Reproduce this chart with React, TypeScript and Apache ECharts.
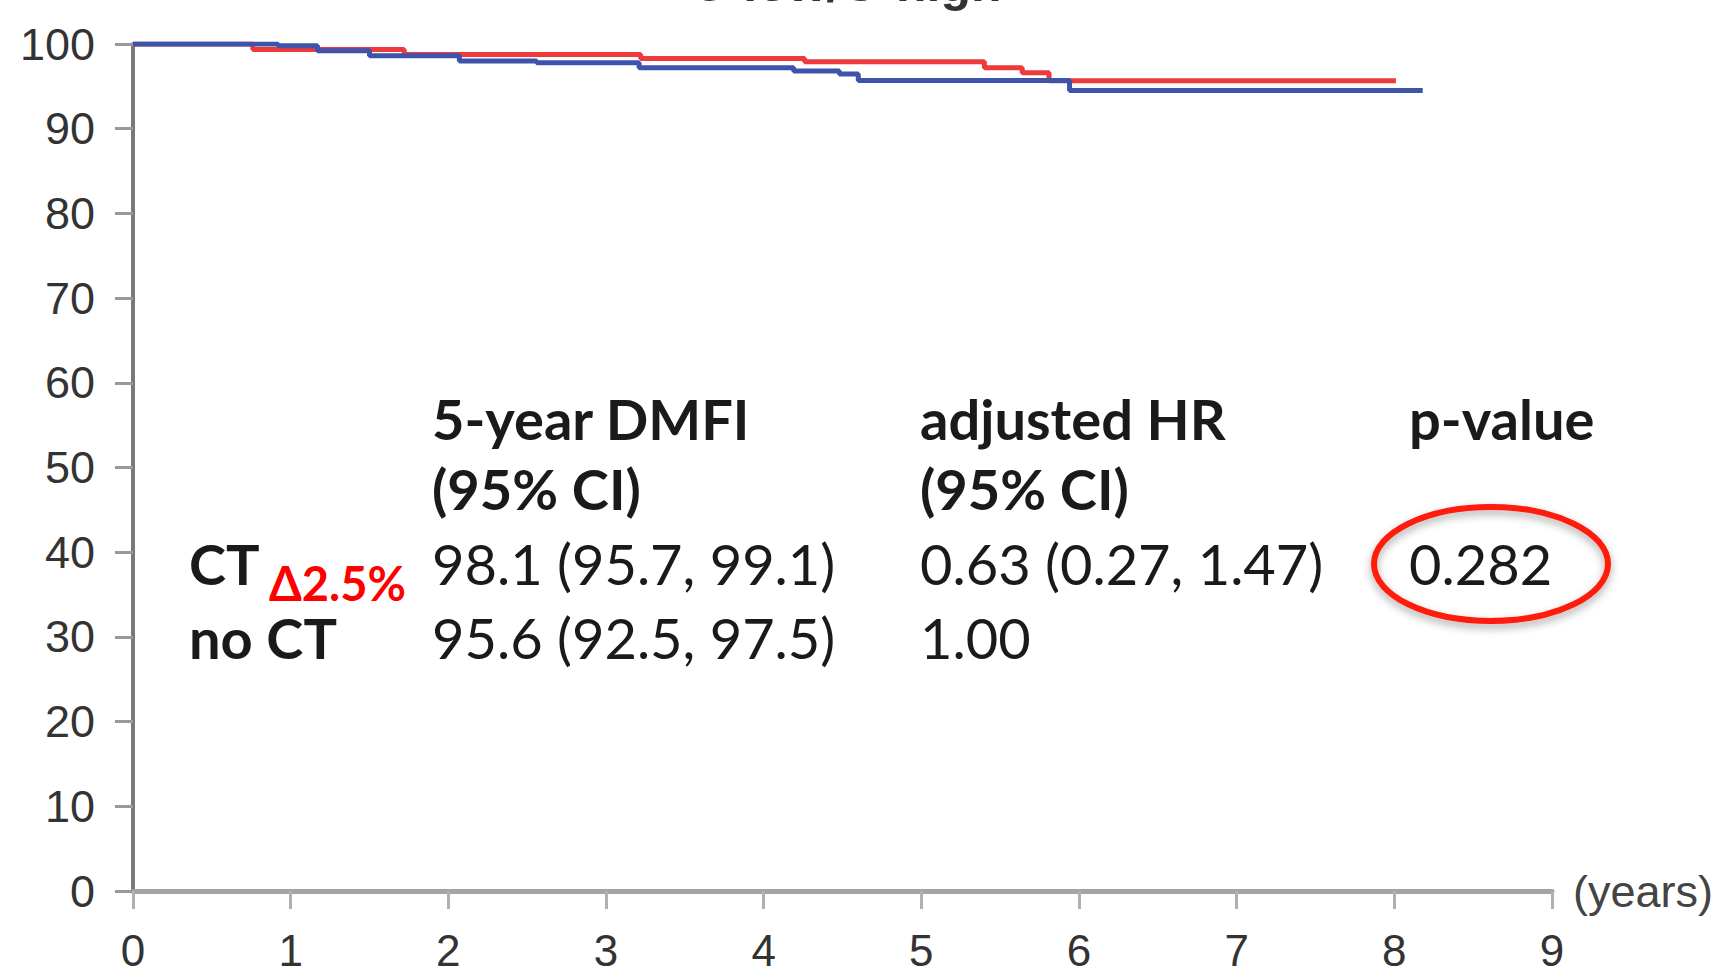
import React, { useEffect, useRef } from "react";
import * as echarts from "echarts";

// Kaplan–Meier steps (time in years, DMFI %)
const ctTimes = [0, 0.76, 1.72, 3.22, 4.26, 5.4, 5.64, 5.81, 8.01];
const ctSurv = [100, 99.35, 98.75, 98.3, 97.9, 97.2, 96.6, 95.65, 95.65];
const noCtTimes = [0, 0.92, 1.17, 1.5, 2.07, 2.56, 3.21, 4.19, 4.48, 4.6, 5.94, 8.18];
const noCtSurv = [100, 99.8, 99.2, 98.6, 98.0, 97.8, 97.2, 96.8, 96.45, 95.7, 94.5, 94.5];

const xTicks = [0, 1, 2, 3, 4, 5, 6, 7, 8, 9];
const yTicks = [0, 10, 20, 30, 40, 50, 60, 70, 80, 90, 100];

const titleText = "C-low/G-high";
const headerCol1 = ["5-year DMFI", "(95% CI)"];
const headerCol2 = ["adjusted HR", "(95% CI)"];
const headerCol3 = ["p-value"];
const rowLabels = ["CT", "no CT"];
const deltaText = "\u03942.5%";
const dmfiValues = ["98.1 (95.7, 99.1)", "95.6 (92.5, 97.5)"];
const hrValues = ["0.63 (0.27, 1.47)", "1.00"];
const pValues = ["0.282"];

export default function App() {
  const ref = useRef<HTMLDivElement>(null);
  useEffect(() => {
    document.body.style.margin = "0";
    const chart = echarts.init(ref.current!, undefined, { renderer: "svg" });
    const tableFont = "Lato";
    const fs = 56;
    const rowY = [437, 507, 582, 656];
    const mid = (b: number) => b - 0.33 * fs;
    const txt = (x: number, baseline: number, text: string, bold: boolean, extra: any = {}) => ({
      type: "text",
      x,
      y: mid(baseline),
      style: {
        text,
        fontSize: fs,
        fontFamily: tableFont,
        fontWeight: bold ? "bold" : "normal",
        fill: "#1a1a1a",
        verticalAlign: "middle",
        align: "left",
        ...extra,
      },
    });
    const graphics: any[] = [
      {
        type: "text",
        x: 846,
        y: 9,
        style: {
          text: titleText,
          fontSize: 50,
          fontWeight: "bold",
          fontFamily: "Liberation Sans",
          fill: "#333",
          align: "center",
          verticalAlign: "bottom",
        },
      },
      txt(432, rowY[0], headerCol1[0], true),
      txt(432, rowY[1], headerCol1[1], true),
      txt(920, rowY[0], headerCol2[0], true),
      txt(920, rowY[1], headerCol2[1], true),
      txt(1409, rowY[0], headerCol3[0], true),
      txt(189, rowY[2], rowLabels[0], true),
      txt(189, rowY[3], rowLabels[1], true),
      {
        type: "text",
        x: 269,
        y: 599 - 0.33 * 47,
        style: {
          text: deltaText,
          fontSize: 47,
          fontFamily: tableFont,
          fontWeight: "bold",
          fill: "#ff0000",
          verticalAlign: "middle",
          align: "left",
        },
      },
      txt(432, rowY[2], dmfiValues[0], false),
      txt(432, rowY[3], dmfiValues[1], false),
      txt(920, rowY[2], hrValues[0], false),
      txt(920, rowY[3], hrValues[1], false),
      txt(1409, rowY[2], pValues[0], false),
      {
        type: "ellipse",
        shape: { cx: 1491, cy: 564, rx: 117, ry: 57 },
        style: {
          fill: "none",
          stroke: "#ff1a0a",
          lineWidth: 6,
          shadowBlur: 8,
          shadowOffsetY: 4,
          shadowColor: "rgba(0,0,0,0.35)",
        },
      },
    ];
    chart.setOption({
      animation: false,
      backgroundColor: "#ffffff",
      grid: { left: 133, right: 170, top: 44, bottom: 85 },
      xAxis: {
        type: "value",
        min: xTicks[0],
        max: xTicks[xTicks.length - 1],
        interval: 1,
        name: "(years)",
        nameLocation: "end",
        nameGap: 21,
        nameTextStyle: { fontSize: 45, fontFamily: "Liberation Sans", color: "#444", verticalAlign: "middle" },
        axisLine: { show: true, lineStyle: { color: "#a3a3a3", width: 5 } },
        axisTick: { show: true, length: 18, lineStyle: { color: "#b0b0b0", width: 3 } },
        axisLabel: { fontSize: 44, fontFamily: "Liberation Sans", color: "#333", margin: 37 },
        splitLine: { show: false },
      },
      yAxis: {
        type: "value",
        min: yTicks[0],
        max: yTicks[yTicks.length - 1],
        interval: 10,
        axisLine: { show: true, lineStyle: { color: "#7a7a7a", width: 4 } },
        axisTick: { show: true, length: 18, lineStyle: { color: "#9a9a9a", width: 3 } },
        axisLabel: { fontSize: 45, fontFamily: "Liberation Sans", color: "#333", margin: 38 },
        splitLine: { show: false },
      },
      series: [
        {
          name: "CT",
          type: "line",
          step: "end",
          symbol: "none",
          data: ctTimes.map((t, i) => [t, ctSurv[i]]),
          lineStyle: { color: "#ee3a3a", width: 5 },
        },
        {
          name: "no CT",
          type: "line",
          step: "end",
          symbol: "none",
          data: noCtTimes.map((t, i) => [t, noCtSurv[i]]),
          lineStyle: { color: "#3d54aa", width: 5 },
        },
      ],
      graphic: graphics,
    });
    return () => chart.dispose();
  }, []);
  return <div ref={ref} style={{ width: 1722, height: 976 }} />;
}
